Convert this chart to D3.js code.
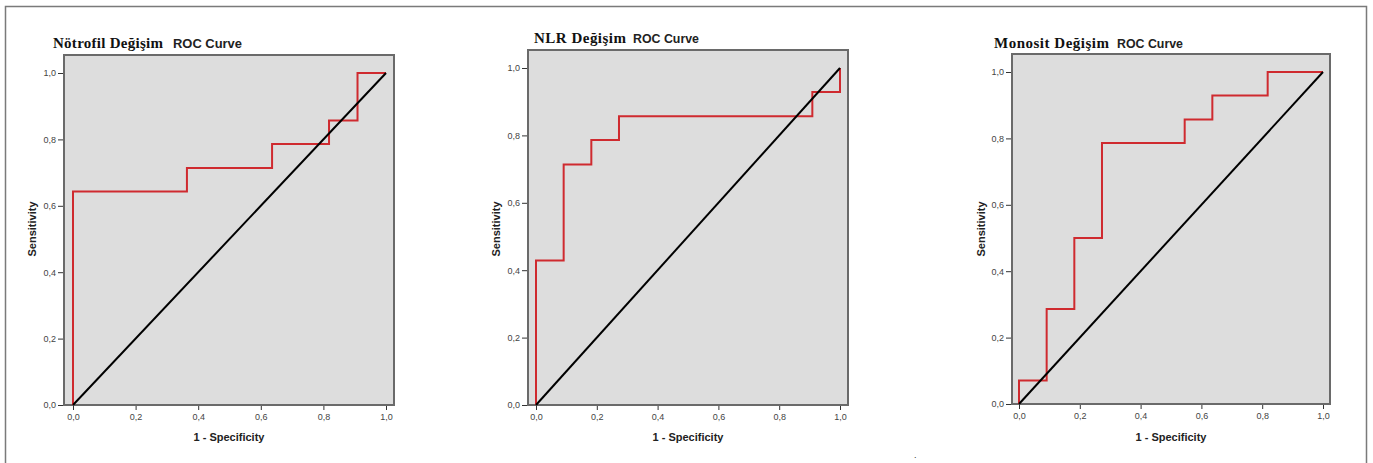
<!DOCTYPE html>
<html>
<head>
<meta charset="utf-8">
<script src="https://cdn.jsdelivr.net/npm/d3@7"></script>
<style>
  body { margin: 0; background: #fff; }
  svg { display: block; }
</style>
</head>
<body>
<svg width="1373" height="463"></svg>
<script>
// chart data
var titlesBold = ["Nötrofil Değişim", "NLR Değişim", "Monosit Değişim"];
var titleSuffix = "ROC Curve";
var tickValues = [0, 0.2, 0.4, 0.6, 0.8, 1.0];
var tickLabels = ["0,0", "0,2", "0,4", "0,6", "0,8", "1,0"];
var xLabel = "1 - Specificity";
var yLabel = "Sensitivity";

var notrofilFpr = [0, 0, 0.364, 0.364, 0.636, 0.636, 0.818, 0.818, 0.909, 0.909, 1];
var notrofilTpr = [0, 0.643, 0.643, 0.714, 0.714, 0.786, 0.786, 0.857, 0.857, 1, 1];

var nlrFpr = [0, 0, 0.091, 0.091, 0.182, 0.182, 0.273, 0.273, 0.909, 0.909, 1, 1];
var nlrTpr = [0, 0.429, 0.429, 0.714, 0.714, 0.786, 0.786, 0.857, 0.857, 0.929, 0.929, 1];

var monositFpr = [0, 0, 0.091, 0.091, 0.182, 0.182, 0.273, 0.273, 0.545, 0.545, 0.636, 0.636, 0.818, 0.818, 1];
var monositTpr = [0, 0.071, 0.071, 0.286, 0.286, 0.5, 0.5, 0.786, 0.786, 0.857, 0.857, 0.929, 0.929, 1, 1];

var refLine = [0, 1];

function main() {
    var svg = d3.select("svg");

    // outer frame (left, top, right edges)
    svg.append("path")
        .attr("d", "M5.5,463 L5.5,6.5 L1366.5,6.5 L1366.5,463")
        .attr("fill", "none")
        .attr("stroke", "#7a7a7a")
        .attr("stroke-width", 1.5);

    var panels = [
        { fpr: notrofilFpr, tpr: notrofilTpr,
          frame: [64, 55, 394, 405], xr: [73, 386], yr: [405, 73],
          titleX: 53, titleY: 48, suffixX: 173, titleW: 110, suffixW: 69,
          yLabX: 36, xLabX: 229 },
        { fpr: nlrFpr, tpr: nlrTpr,
          frame: [528, 50, 848, 405], xr: [536, 840], yr: [405, 68],
          titleX: 534, titleY: 43, suffixX: 633, titleW: 92, suffixW: 66,
          yLabX: 500, xLabX: 688 },
        { fpr: monositFpr, tpr: monositTpr,
          frame: [1012, 54, 1330, 404], xr: [1019, 1323], yr: [404, 72],
          titleX: 994, titleY: 48, suffixX: 1117, titleW: 115, suffixW: 66,
          yLabX: 985, xLabX: 1171 }
    ];

    panels.forEach(function(p, i) {
        var g = svg.append("g");
        var x = d3.scaleLinear().domain([0, 1]).range(p.xr);
        var y = d3.scaleLinear().domain([0, 1]).range(p.yr);
        var f = p.frame;

        // plot background + frame
        g.append("rect")
            .attr("x", f[0]).attr("y", f[1])
            .attr("width", f[2] - f[0]).attr("height", f[3] - f[1])
            .attr("fill", "#dddddd")
            .attr("stroke", "#6a6a6a")
            .attr("stroke-width", 2);

        // axes
        var xAxis = g.append("g")
            .attr("transform", "translate(0," + (f[3] + 1) + ")")
            .call(d3.axisBottom(x)
                .tickValues(tickValues)
                .tickFormat(function(d, k) { return tickLabels[k]; })
                .tickSize(4)
                .tickPadding(4));
        var yAxis = g.append("g")
            .attr("transform", "translate(" + (f[0] - 1) + ",0)")
            .call(d3.axisLeft(y)
                .tickValues(tickValues)
                .tickFormat(function(d, k) { return tickLabels[k]; })
                .tickSize(5)
                .tickPadding(2));
        [xAxis, yAxis].forEach(function(a) {
            a.select(".domain").remove();
            a.selectAll("line").attr("stroke", "#333");
            a.selectAll("text")
                .attr("fill", "#444")
                .attr("font-family", "Liberation Sans, Arial, sans-serif")
                .attr("font-size", "9px");
        });

        var line = d3.line()
            .x(function(d) { return x(d[0]); })
            .y(function(d) { return y(d[1]); });

        // ROC curve
        g.append("path")
            .datum(d3.zip(p.fpr, p.tpr))
            .attr("d", line)
            .attr("fill", "none")
            .attr("stroke", "#cf2a2f")
            .attr("stroke-width", 2);

        // reference diagonal
        g.append("path")
            .datum(d3.zip(refLine, refLine))
            .attr("d", line)
            .attr("fill", "none")
            .attr("stroke", "#000")
            .attr("stroke-width", 2);

        // title
        g.append("text")
            .attr("x", p.titleX).attr("y", p.titleY)
            .attr("font-family", "Liberation Serif, Times New Roman, serif")
            .attr("font-weight", "bold")
            .attr("font-size", "15px")
            .attr("textLength", p.titleW)
            .attr("fill", "#111")
            .text(titlesBold[i]);
        g.append("text")
            .attr("x", p.suffixX).attr("y", p.titleY)
            .attr("font-family", "Liberation Sans, Arial, sans-serif")
            .attr("font-weight", "bold")
            .attr("font-size", "12.5px")
            .attr("textLength", p.suffixW)
            .attr("lengthAdjust", "spacingAndGlyphs")
            .attr("fill", "#222")
            .text(titleSuffix);

        // axis labels
        g.append("text")
            .attr("x", p.xLabX).attr("y", 441)
            .attr("text-anchor", "middle")
            .attr("font-family", "Liberation Sans, Arial, sans-serif")
            .attr("font-weight", "bold")
            .attr("font-size", "11px")
            .attr("fill", "#222")
            .text(xLabel);
        g.append("text")
            .attr("transform", "translate(" + p.yLabX + ",229) rotate(-90)")
            .attr("text-anchor", "middle")
            .attr("font-family", "Liberation Sans, Arial, sans-serif")
            .attr("font-weight", "bold")
            .attr("font-size", "11px")
            .attr("fill", "#222")
            .text(yLabel);
    });

    // stray dot in the source image
    svg.append("text")
        .attr("x", 914).attr("y", 458)
        .attr("font-family", "Liberation Sans, Arial, sans-serif")
        .attr("font-size", "9px")
        .attr("fill", "#333")
        .text(".");
}
main();
</script>
</body>
</html>
